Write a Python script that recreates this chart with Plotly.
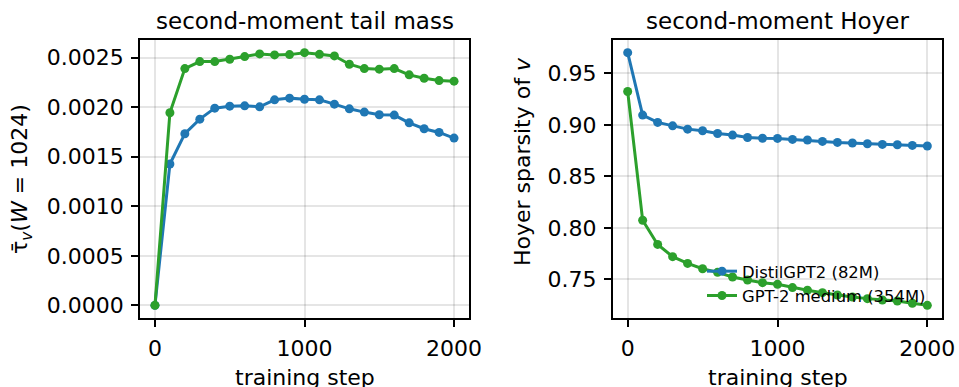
import plotly.graph_objects as go

steps = list(range(0, 2001, 100))

tail_distil = [0.0, 0.001426, 0.001732, 0.001879, 0.00199, 0.00201, 0.002013, 0.002003,
               0.002074, 0.002091, 0.00208, 0.002074, 0.00203, 0.001983, 0.00195, 0.001923,
               0.00192, 0.001842, 0.001782, 0.001745, 0.001688]
tail_medium = [0.0, 0.001943, 0.002389, 0.00246, 0.00246, 0.002483, 0.00251, 0.002537,
               0.002527, 0.00253, 0.00255, 0.002533, 0.002517, 0.002433, 0.002389, 0.002383,
               0.002389, 0.002326, 0.002292, 0.002268, 0.002262]

hoyer_distil = [0.970, 0.9094, 0.9023, 0.899, 0.8958, 0.8942, 0.8916, 0.890, 0.8877, 0.887,
                0.8868, 0.8858, 0.8852, 0.8839, 0.8829, 0.8823, 0.8816, 0.881, 0.8806, 0.880,
                0.8794]
hoyer_medium = [0.9323, 0.8074, 0.7839, 0.772, 0.7655, 0.7603, 0.7568, 0.7523, 0.7494, 0.7468,
                0.7452, 0.742, 0.7394, 0.7371, 0.7348, 0.7329, 0.7313, 0.730, 0.729, 0.7268,
                0.7248]

names = ["DistilGPT2 (82M)", "GPT-2 medium (354M)"]
colors = ["#1f77b4", "#2ca02c"]
titles = ["second-moment tail mass", "second-moment Hoyer"]

FONT = "DejaVu Sans"
W, H = 959, 387

fig = go.Figure()

for ys, nm, c in zip([tail_distil, tail_medium], names, colors):
    fig.add_trace(go.Scatter(x=steps, y=ys, mode="lines+markers", name=nm,
                             line=dict(color=c, width=3), marker=dict(color=c, size=9),
                             xaxis="x", yaxis="y", showlegend=False))
for ys, nm, c in zip([hoyer_distil, hoyer_medium], names, colors):
    fig.add_trace(go.Scatter(x=steps, y=ys, mode="lines+markers", name=nm,
                             line=dict(color=c, width=3), marker=dict(color=c, size=9),
                             xaxis="x2", yaxis="y2", showlegend=True))

def px2x(p):
    return p / W

def px2y(p):
    return 1 - p / H

dom_x1 = [px2x(140), px2x(469)]
dom_x2 = [px2x(612.7), px2x(942.3)]
dom_y = [px2y(318), px2y(40)]

axis_common = dict(showline=True, linecolor="black", linewidth=1.6, mirror=True,
                   ticks="outside", ticklen=7, tickwidth=1.6, tickcolor="black",
                   showgrid=True, gridcolor="rgba(0,0,0,0.1)", gridwidth=1.5,
                   zeroline=False, ticklabelstandoff=3, automargin=False,
                   tickfont=dict(family=FONT, size=22, color="black"))

fig.update_layout(
    width=W, height=H,
    margin=dict(l=0, r=0, t=0, b=0, pad=0, autoexpand=False),
    paper_bgcolor="white", plot_bgcolor="white",
    font=dict(family=FONT, color="black"),
    xaxis=dict(domain=dom_x1, range=[-100, 2100], tickvals=[0, 1000, 2000], anchor="y", **axis_common),
    yaxis=dict(domain=dom_y, range=[-0.0001275, 0.0026775], tick0=0, dtick=0.0005,
               tickformat=".4f", anchor="x", **axis_common),
    xaxis2=dict(domain=dom_x2, range=[-100, 2100], tickvals=[0, 1000, 2000], anchor="y2", **axis_common),
    yaxis2=dict(domain=dom_y, range=[0.7125, 0.9823], tick0=0.75, dtick=0.05,
                tickformat=".2f", anchor="x2", **axis_common),
    legend=dict(x=px2x(702), y=px2y(254), xanchor="left", yanchor="top",
                bgcolor="rgba(0,0,0,0)", borderwidth=0,
                font=dict(family=FONT, size=16.4, color="black"),
                tracegroupgap=0, itemwidth=30),
    showlegend=True,
)

ann = []
for d, t in zip((dom_x1, dom_x2), titles):
    ann.append(dict(text=t, x=(d[0] + d[1]) / 2, y=px2y(21), xref="paper", yref="paper",
                    xanchor="center", yanchor="middle", showarrow=False,
                    font=dict(family=FONT, size=23)))
    ann.append(dict(text="training step", x=(d[0] + d[1]) / 2, y=px2y(377), xref="paper", yref="paper",
                    xanchor="center", yanchor="middle", showarrow=False,
                    font=dict(family=FONT, size=22)))
ann.append(dict(text="τ\u0304<sub><i>v</i></sub>(<i>W</i> = 1024)", x=px2x(21), y=px2y(179),
                xref="paper", yref="paper", xanchor="center", yanchor="middle", textangle=-90,
                showarrow=False, font=dict(family=FONT, size=22)))
ann.append(dict(text="Hoyer sparsity of <i>v</i>", x=px2x(522), y=px2y(162),
                xref="paper", yref="paper", xanchor="center", yanchor="middle", textangle=-90,
                showarrow=False, font=dict(family=FONT, size=22)))
fig.update_layout(annotations=ann)

fig.write_html("out.html", config={"displayModeBar": False},
               post_script="document.body.style.margin='0px';document.body.style.overflow='hidden';")
